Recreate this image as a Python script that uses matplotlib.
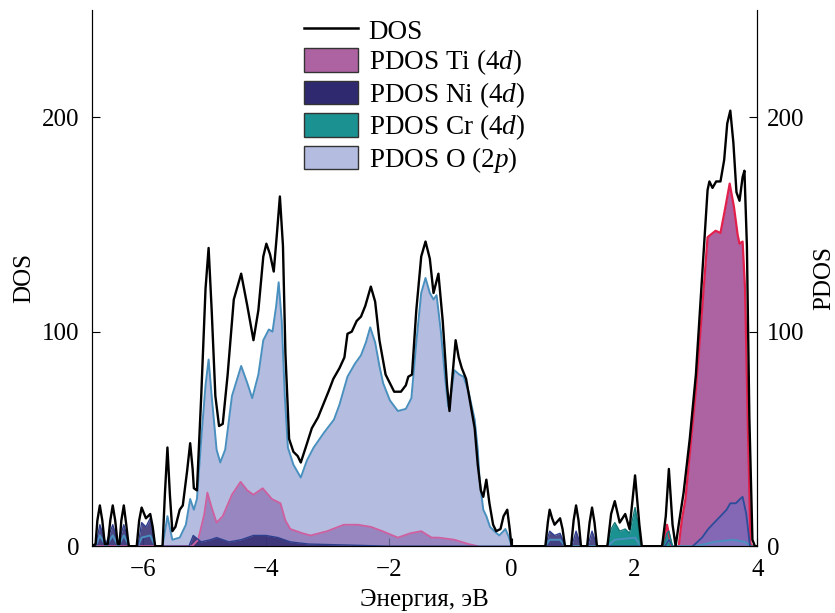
import numpy as np
import matplotlib
matplotlib.use("Agg")
from matplotlib import pyplot as plt
from matplotlib.patches import Patch
from matplotlib.lines import Line2D

plt.rcParams['font.family'] = ['Liberation Serif', 'DejaVu Serif']
plt.rcParams['mathtext.fontset'] = 'custom'
plt.rcParams['mathtext.rm'] = 'Liberation Serif'
plt.rcParams['mathtext.it'] = 'Liberation Serif:italic'

# total DOS (energy, value)
dos_e = [-6.83, -6.77, -6.74, -6.70, -6.66, -6.62, -6.57, -6.53, -6.49, -6.45, -6.41, -6.38, -6.35,
         -6.31, -6.27, -6.23, -6.10, -6.06, -6.02, -5.95, -5.88, -5.84, -5.80, -5.68, -5.64, -5.60,
         -5.56, -5.52, -5.47, -5.40, -5.35, -5.28, -5.23, -5.19, -5.17, -5.12, -5.05, -4.98,
         -4.93, -4.88, -4.82, -4.76, -4.70, -4.62, -4.52, -4.40, -4.30, -4.20, -4.12, -4.04, -3.99,
         -3.93, -3.87, -3.82, -3.77, -3.72, -3.68, -3.62, -3.55, -3.48, -3.43, -3.35, -3.25, -3.15,
         -3.05, -2.98, -2.90, -2.80, -2.72, -2.67, -2.60, -2.52, -2.45, -2.38, -2.29, -2.22, -2.15,
         -2.05, -1.98, -1.91, -1.80, -1.72, -1.68, -1.62, -1.55, -1.47, -1.40, -1.33, -1.27, -1.19,
         -1.12, -1.05, -1.01, -0.96, -0.91, -0.86, -0.81, -0.74, -0.66, -0.60, -0.55, -0.50, -0.46,
         -0.41, -0.36, -0.30, -0.25, -0.18, -0.13, -0.07, -0.03, 0.00, 0.55, 0.59, 0.62, 0.66, 0.70,
         0.79, 0.83, 0.87, 0.97, 1.01, 1.05, 1.09, 1.13, 1.23, 1.27, 1.31, 1.35, 1.39, 1.56, 1.62,
         1.68, 1.76, 1.85, 1.92, 1.97, 2.01, 2.05, 2.08, 2.12, 2.45, 2.51, 2.56, 2.62, 2.67, 2.72,
         2.80, 2.90, 3.00, 3.10, 3.19, 3.22, 3.27, 3.33, 3.40, 3.46, 3.51, 3.56, 3.61, 3.66, 3.71,
         3.76, 3.79, 3.83, 3.87, 3.92, 3.96, 4.00]
dos_v = [0, 1, 12, 19, 12, 1, 1, 12, 19, 12, 1, 1, 12,
         19, 10, 0, 0, 12, 18, 13, 15, 9, 0, 0, 25, 46,
         24, 7, 9, 17, 19, 35, 48, 36, 27, 26, 70, 120,
         139, 110, 70, 56, 57, 80, 115, 127, 112, 96, 110, 135, 141,
         136, 128, 145, 163, 140, 90, 50, 44, 42, 39, 46, 55, 60,
         67, 72, 78, 83, 88, 99, 100, 105, 107, 112, 121, 114, 96,
         80, 76, 72, 72, 75, 79, 80, 110, 135, 142, 134, 118, 127,
         105, 75, 63, 80, 96, 88, 83, 78, 65, 55, 38, 26, 23,
         31, 20, 10, 7, 8, 14, 17, 8, 0, 0, 11, 17, 13, 10,
         13, 8, 0, 0, 12, 19, 12, 0, 0, 11, 18, 11, 0, 0, 15,
         21, 11, 15, 8, 22, 33, 20, 10, 0, 0, 14, 36, 10, 0, 10,
         25, 50, 80, 125, 166, 170, 167, 170, 170, 180, 197, 203, 188, 165, 161,
         172, 175, 140, 60, 3, 0, 0]

# PDOS Ti (4d)
ti_e = [-6.83, -5.20, -5.10, -5.00, -4.95, -4.88, -4.80, -4.70, -4.55, -4.41, -4.30, -4.20, -4.05,
        -3.90, -3.76, -3.68, -3.60, -3.40, -3.27, -3.00, -2.73, -2.50, -2.29, -2.10, -1.85, -1.65,
        -1.47, -1.30, -1.19, -0.93, -0.70, -0.55, 2.45, 2.53, 2.60, 2.72, 2.77, 2.83, 3.00, 3.10,
        3.19, 3.32, 3.40, 3.48, 3.55, 3.62, 3.68, 3.71, 3.76, 3.80, 3.85, 3.89, 3.93, 4.00]
ti_v = [0, 0, 3, 15, 25, 18, 11, 14, 24, 30, 26, 24, 27,
        22, 20, 12, 8, 6, 5, 7, 10, 10, 9, 7, 4, 6,
        7, 4, 4, 3, 1, 0, 0, 10, 0, 0, 12, 22, 73, 110,
        144, 147, 146, 158, 169, 158, 145, 141, 142, 120, 50, 1, 0, 0]

# PDOS Ni (4d), low-energy part and conduction-band part
ni_e = [-6.83, -6.77, -6.70, -6.60, -6.49, -6.40, -6.31, -6.22, -6.08, -6.02, -5.95, -5.88, -5.80,
        -5.25, -5.18, -5.05, -4.90, -4.80, -4.60, -4.40, -4.20, -4.00, -3.80, -3.60, -3.30, -2.00,
        0.55, 0.62, 0.70, 0.79, 0.87, 0.98, 1.05, 1.13, 1.24, 1.31, 1.39, 2.50, 2.56, 2.62]
ni_v = [0, 0, 10, 1, 10, 1, 10, 0, 0, 11, 9, 13, 0,
        0, 5, 2, 3, 4, 2, 3, 5, 5, 4, 2, 1, 0,
        0, 7, 5, 6, 0, 0, 7, 0, 0, 7, 0, 0, 3, 0]
ni_band_e = [2.95, 3.10, 3.20, 3.30, 3.40, 3.50, 3.56, 3.65, 3.72, 3.76, 3.82, 3.88]
ni_band_v = [0, 4, 8, 11, 14, 17, 20, 20, 22, 23, 15, 0]

# PDOS Cr (4d)
cr_e = [1.55, 1.62, 1.68, 1.76, 1.85, 1.92, 2.01, 2.06, 2.10, 2.47, 2.53, 2.56, 2.62]
cr_v = [0, 8, 11, 7, 8, 6, 18, 10, 0, 0, 6, 7, 0]

# PDOS O (2p)
o_e = [-6.83, -6.77, -6.70, -6.60, -6.49, -6.40, -6.31, -6.22, -6.08, -6.02, -5.88, -5.80, -5.68,
       -5.60, -5.52, -5.40, -5.30, -5.23, -5.17, -5.12, -5.05, -4.98, -4.93, -4.88, -4.80, -4.74,
       -4.66, -4.55, -4.40, -4.30, -4.22, -4.12, -4.04, -3.95, -3.89, -3.83, -3.79, -3.74, -3.69,
       -3.64, -3.55, -3.43, -3.33, -3.22, -3.05, -2.89, -2.80, -2.67, -2.55, -2.45, -2.37, -2.30,
       -2.22, -2.15, -2.09, -1.98, -1.85, -1.72, -1.63, -1.55, -1.47, -1.40, -1.33, -1.27, -1.22,
       -1.15, -1.08, -1.03, -0.98, -0.93, -0.85, -0.78, -0.70, -0.60, -0.55, -0.52, -0.46, -0.41,
       -0.35, -0.28, -0.20, -0.10, -0.04, 0.00, 0.55, 0.62, 0.79, 0.87, 1.56, 1.68, 2.01, 2.10,
       2.50, 2.56, 2.62, 3.00, 3.30, 3.60, 3.80, 3.90, 4.00]
o_v = [0, 0, 5, 0, 5, 0, 5, 0, 0, 4, 5, 0, 0,
       14, 3, 4, 10, 22, 17, 22, 50, 75, 87, 70, 45, 39,
       45, 70, 84, 76, 69, 80, 96, 101, 100, 112, 123, 105, 70,
       46, 38, 32, 40, 46, 53, 59, 66, 79, 85, 89, 95, 102,
       95, 84, 76, 68, 63, 64, 69, 95, 118, 125, 118, 115, 117,
       100, 78, 65, 72, 82, 80, 79, 72, 59, 45, 31, 17, 14,
       9, 7, 5, 8, 4, 0, 0, 3, 3, 0, 0, 3, 4, 0,
       0, 3, 0, 0, 2, 3, 2, 0, 0]

fig = plt.figure(figsize=(8.35, 6.13), dpi=100)
ax = fig.add_axes([0.110, 0.109, 0.797, 0.875])

ti_fill = '#ad63a1'
o_fill = (140/255, 154/255, 208/255)
ni_fill = '#2f2a70'
cr_fill = '#1b9191'

ax.fill_between(ti_e, ti_v, color=ti_fill, lw=0, zorder=1)
ax.fill_between(o_e, o_v, color=o_fill, alpha=0.65, lw=0, zorder=2)
ax.fill_between(ni_e, ni_v, color=ni_fill, alpha=0.85, lw=0, zorder=3)
ax.fill_between(ni_band_e, ni_band_v, color='#6a6cc4', alpha=0.6, lw=0, zorder=3)
ax.fill_between(cr_e, cr_v, color=cr_fill, lw=0, zorder=3)

# edges of the filled curves
ti_e_arr = np.array(ti_e)
lo = ti_e_arr < 0
ax.plot(ti_e_arr[lo], np.array(ti_v)[lo], color='#cf5f9f', lw=1.3, zorder=4)
ax.plot(ti_e_arr[~lo], np.array(ti_v)[~lo], color='#e2204c', lw=1.6, zorder=4)
ax.plot(o_e, o_v, color='#4a90bf', lw=1.4, zorder=5)
ax.plot(ni_e, ni_v, color='#2d3f8e', lw=1.0, zorder=5)
ax.plot(ni_band_e, ni_band_v, color='#2a4c9a', lw=1.3, zorder=5)
ax.plot(cr_e, cr_v, color='#167a7a', lw=1.0, zorder=5)
ax.plot(dos_e, dos_v, color='black', lw=1.7, zorder=6)

ax.set_xlim(-6.83, 4)
ax.set_ylim(0, 250)
ax.set_xticks([-6, -4, -2, 0, 2, 4])
ax.set_yticks([0, 100, 200])
ax.spines['top'].set_visible(False)
ax.tick_params(direction='in', length=6, labelsize=18)
ax.tick_params(axis='x', pad=9)
ax.tick_params(axis='y', pad=9)
ax.set_xlabel('Энергия, эВ', fontsize=18, labelpad=6)
ax.set_ylabel('DOS', fontsize=18, labelpad=5)

ax2 = ax.twinx()
ax2.set_ylim(0, 250)
ax2.set_yticks([0, 100, 200])
ax2.spines['top'].set_visible(False)
ax2.tick_params(direction='in', length=6, labelsize=18, pad=7)
ax2.set_ylabel('PDOS', fontsize=18, labelpad=6)

handles = [Line2D([], [], color='black', lw=1.8),
           Patch(facecolor=ti_fill, edgecolor='#333333', lw=1.0),
           Patch(facecolor=ni_fill, edgecolor='#333333', lw=1.0),
           Patch(facecolor=cr_fill, edgecolor='#333333', lw=1.0),
           Patch(facecolor='#b4bde0', edgecolor='#333333', lw=1.0)]
labels = ['DOS', 'PDOS Ti (4$\\it{d}$)', 'PDOS Ni (4$\\it{d}$)',
          'PDOS Cr (4$\\it{d}$)', 'PDOS O (2$\\it{p}$)']
ax.legend(handles, labels, loc='upper left', bbox_to_anchor=(0.31, 0.995), frameon=False,
          fontsize=19.5, handlelength=2.0, handleheight=0.95, labelspacing=0.1,
          handletextpad=0.4, borderaxespad=0, borderpad=0.2)

fig.savefig('out.png', dpi=100)
